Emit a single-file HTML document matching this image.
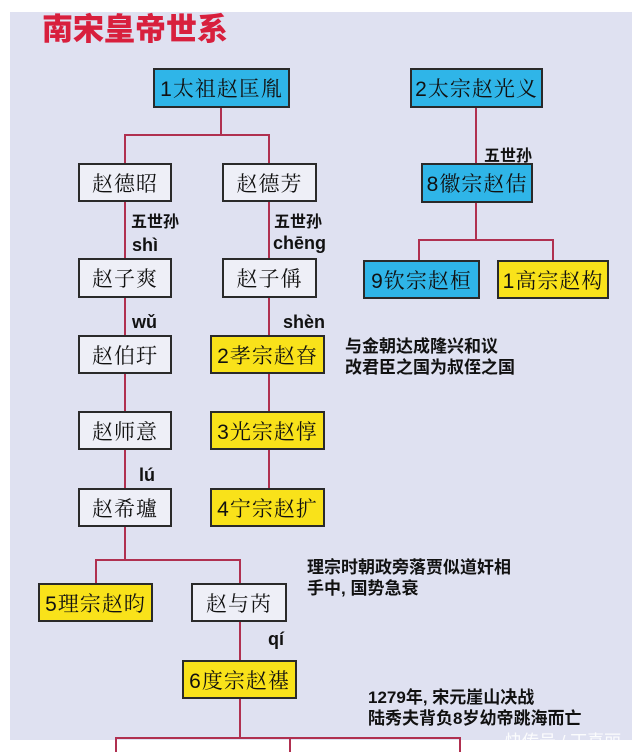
<!DOCTYPE html>
<html><head><meta charset="utf-8"><style>
body{margin:0;width:640px;height:752px;background:#fff;position:relative;overflow:hidden;font-family:"Liberation Sans","Noto Sans CJK SC",sans-serif}
#bg{position:absolute;left:10px;top:12px;width:622px;height:728px;background:#dfe1f1}
.b{position:absolute;box-sizing:border-box;border:2px solid #2a2a2a;display:flex;align-items:center;justify-content:center;font-family:"Liberation Sans","Noto Serif CJK SC",serif;font-size:21px;letter-spacing:1px;color:#111;background:#eeeff7;white-space:nowrap}
.bl{background:#2fb5e8}.y{background:#f9e21a}
.l{position:absolute;background:#b03050}
.t{position:absolute;font-size:16px;font-weight:bold;color:#111;white-space:nowrap}
.n{position:absolute;font-size:17px;color:#111;line-height:21px;white-space:nowrap;font-weight:bold}
</style></head><body>
<div id="bg"></div>
<div style="position:absolute;left:42px;top:4px;font-size:31px;font-weight:900;color:#d81f3d;font-family:'Noto Sans CJK SC',sans-serif">南宋皇帝世系</div>

<div class="l" style="left:220px;top:108px;width:2px;height:28px"></div>
<div class="l" style="left:124px;top:134px;width:146px;height:2px"></div>
<div class="l" style="left:124px;top:134px;width:2px;height:29px"></div>
<div class="l" style="left:268px;top:134px;width:2px;height:29px"></div>
<div class="l" style="left:475px;top:108px;width:2px;height:55px"></div>
<div class="l" style="left:475px;top:203px;width:2px;height:38px"></div>
<div class="l" style="left:418px;top:239px;width:136px;height:2px"></div>
<div class="l" style="left:418px;top:239px;width:2px;height:21px"></div>
<div class="l" style="left:552px;top:239px;width:2px;height:21px"></div>
<div class="l" style="left:124px;top:202px;width:2px;height:359px"></div>
<div class="l" style="left:268px;top:202px;width:2px;height:286px"></div>
<div class="l" style="left:95px;top:559px;width:146px;height:2px"></div>
<div class="l" style="left:95px;top:559px;width:2px;height:24px"></div>
<div class="l" style="left:239px;top:559px;width:2px;height:24px"></div>
<div class="l" style="left:239px;top:622px;width:2px;height:117px"></div>
<div class="l" style="left:115px;top:737px;width:345px;height:2px"></div>
<div class="l" style="left:115px;top:737px;width:2px;height:15px"></div>
<div class="l" style="left:289px;top:737px;width:2px;height:15px"></div>
<div class="l" style="left:459px;top:737px;width:2px;height:15px"></div>

<div class="b bl" style="left:153px;top:68px;width:137px;height:40px">1太祖赵匡胤</div>
<div class="b bl" style="left:410px;top:68px;width:133px;height:40px">2太宗赵光义</div>
<div class="b" style="left:78px;top:163px;width:94px;height:39px">赵德昭</div>
<div class="b" style="left:222px;top:163px;width:95px;height:39px">赵德芳</div>
<div class="b bl" style="left:421px;top:163px;width:112px;height:40px">8徽宗赵佶</div>
<div class="b" style="left:78px;top:258px;width:94px;height:40px">赵子爽</div>
<div class="b" style="left:222px;top:258px;width:95px;height:40px">赵子偁</div>
<div class="b bl" style="left:363px;top:260px;width:117px;height:39px">9钦宗赵桓</div>
<div class="b y" style="left:497px;top:260px;width:112px;height:39px">1高宗赵构</div>
<div class="b" style="left:78px;top:335px;width:94px;height:39px">赵伯玗</div>
<div class="b y" style="left:210px;top:335px;width:115px;height:39px">2孝宗赵昚</div>
<div class="b" style="left:78px;top:411px;width:94px;height:39px">赵师意</div>
<div class="b y" style="left:210px;top:411px;width:115px;height:39px">3光宗赵惇</div>
<div class="b" style="left:78px;top:488px;width:94px;height:39px">赵希瓐</div>
<div class="b y" style="left:210px;top:488px;width:115px;height:39px">4宁宗赵扩</div>
<div class="b y" style="left:38px;top:583px;width:115px;height:39px">5理宗赵昀</div>
<div class="b" style="left:191px;top:583px;width:96px;height:39px">赵与芮</div>
<div class="b y" style="left:182px;top:660px;width:115px;height:39px">6度宗赵禥</div>

<div class="t" style="left:131px;top:208px;font-size:16px">五世孙</div>
<div class="t" style="left:132px;top:235px;font-size:18px">shì</div>
<div class="t" style="left:274px;top:208px;font-size:16px">五世孙</div>
<div class="t" style="left:273px;top:233px;font-size:18px">chēng</div>
<div class="t" style="left:484px;top:142px;font-size:16px">五世孙</div>
<div class="t" style="left:132px;top:312px;font-size:18px">wǔ</div>
<div class="t" style="left:283px;top:312px;font-size:18px">shèn</div>
<div class="t" style="left:139px;top:465px;font-size:18px">lú</div>
<div class="t" style="left:268px;top:629px;font-size:18px">qí</div>

<div class="n" style="left:345px;top:336px">与金朝达成隆兴和议<br>改君臣之国为叔侄之国</div>
<div class="n" style="left:307px;top:557px">理宗时朝政旁落贾似道奸相<br>手中, 国势急衰</div>
<div class="n" style="left:368px;top:687px">1279年, 宋元崖山决战<br>陆秀夫背负8岁幼帝跳海而亡</div>
<div style="position:absolute;left:505px;top:727px;font-size:17px;color:#fff;opacity:.9">快传号 / 丁喜丽</div>
</body></html>
